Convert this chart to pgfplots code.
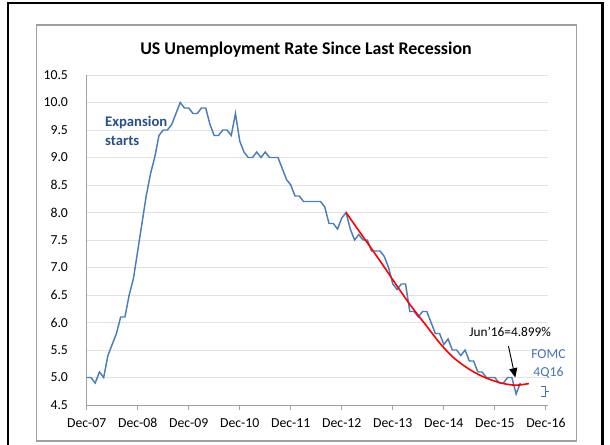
\documentclass[border=0pt]{standalone}
\usepackage{fontspec}
\setmainfont{Carlito}
\usepackage{pgfplots}
\pgfplotsset{compat=1.18}
\usetikzlibrary{arrows.meta}
\definecolor{xlblue}{RGB}{74,126,187}
\definecolor{xldark}{RGB}{38,80,140}
\definecolor{xlfomc}{RGB}{70,115,180}
\definecolor{gridgray}{RGB}{226,226,226}
\definecolor{axisgray}{RGB}{160,160,160}

% months since Dec-07, unemployment rate (%)
\pgfplotstableread{
m r
0 5.0
1 5.0
2 4.9
3 5.1
4 5.0
5 5.4
6 5.6
7 5.8
8 6.1
9 6.1
10 6.5
11 6.8
12 7.3
13 7.8
14 8.3
15 8.7
16 9.0
17 9.4
18 9.5
19 9.5
20 9.6
21 9.8
22 10.0
23 9.9
24 9.9
25 9.8
26 9.8
27 9.9
28 9.9
29 9.6
30 9.4
31 9.4
32 9.5
33 9.5
34 9.4
35 9.8
36 9.3
37 9.1
38 9.0
39 9.0
40 9.1
41 9.0
42 9.1
43 9.0
44 9.0
45 9.0
46 8.8
47 8.6
48 8.5
49 8.3
50 8.3
51 8.2
52 8.2
53 8.2
54 8.2
55 8.2
56 8.1
57 7.8
58 7.8
59 7.7
60 7.9
61 8.0
62 7.7
63 7.5
64 7.6
65 7.5
66 7.5
67 7.3
68 7.3
69 7.3
70 7.2
71 7.0
72 6.7
73 6.6
74 6.7
75 6.7
76 6.2
77 6.2
78 6.1
79 6.2
80 6.2
81 6.0
82 5.8
83 5.8
84 5.6
85 5.7
86 5.5
87 5.5
88 5.4
89 5.5
90 5.3
91 5.3
92 5.1
93 5.1
94 5.0
95 5.0
96 5.0
97 4.9
98 4.9
99 5.0
100 5.0
101 4.7
102 4.9
}\urate

% fitted trend
\pgfplotstableread{
m r
61 8.00
65 7.56
69 7.12
72.5 6.72
76 6.33
80 5.93
83 5.63
86 5.38
89 5.20
92 5.06
95 4.96
98 4.89
101 4.86
104 4.89
}\trend

\begin{document}
\begin{tikzpicture}
\path[use as bounding box] (-65pt,-29.25pt) rectangle (392.5pt,303.75pt);
\draw[line width=2.2pt] (-59pt,-40pt) -- (-59pt,301.5pt) -- (387.2pt,301.5pt) -- (387.2pt,-40pt);
\draw[axisgray, line width=0.8pt] (-37.3pt,-27pt) rectangle (367.5pt,285pt);
\node[font=\fontsize{13.4}{16}\selectfont\bfseries] at (164.5pt,266.25pt) {US Unemployment Rate Since Last Recession};
\begin{axis}[
  at={(0,0)}, anchor=south west,
  scale only axis,
  width=346pt, height=247.5pt,
  xmin=0, xmax=108.5,
  ymin=4.5, ymax=10.5,
  axis x line*=bottom,
  axis y line*=left,
  axis line style={axisgray, line width=0.6pt},
  xtick={0,12,...,108},
  xticklabels={Dec-07,Dec-08,Dec-09,Dec-10,Dec-11,Dec-12,Dec-13,Dec-14,Dec-15,Dec-16},
  ytick={4.5,5,...,10.5},
  tick align=outside,
  major tick length=3.5pt,
  xtick style={axisgray, line width=0.6pt},
  ytick style={draw=none},
  ymajorgrids,
  major grid style={gridgray, line width=0.6pt},
  /pgf/number format/assume math mode=true,
  tick label style={font=\fontsize{10.3}{12}\selectfont},
  yticklabel style={/pgf/number format/fixed, /pgf/number format/fixed zerofill, /pgf/number format/precision=1, xshift=-7pt},
  xticklabel style={yshift=-3pt},
  clip=false,
]
\addplot[xlblue, line width=1.1pt, no markers] table[x=m, y=r] {\urate};
\addplot[red, line width=1.2pt, no markers, smooth] table[x=m, y=r] {\trend};

\node[anchor=west, align=left, text=xldark, font=\fontsize{11}{14.25}\selectfont\bfseries, inner sep=0pt]
  at (axis cs:4.3,9.48) {Expansion\\starts};
\node[font=\fontsize{10}{12}\selectfont, inner sep=0pt] at (axis cs:99.6,5.83) {Jun'16=4.899\%};
\draw[-{Triangle[width=6pt,length=7pt]}, line width=0.7pt] (axis cs:99.2,5.57) -- (axis cs:100.8,5.0);
\node[align=center, text=xlfomc, font=\fontsize{10.3}{13.3}\selectfont, inner sep=0pt]
  at (axis cs:108.6,5.25) {FOMC\\4Q16};
\draw[xlfomc, line width=0.8pt] (axis cs:106.8,4.84) -- (axis cs:108.0,4.84) -- (axis cs:108.0,4.66) -- (axis cs:106.8,4.66)
  (axis cs:108.0,4.75) -- (axis cs:108.8,4.75);
\end{axis}
\end{tikzpicture}
\end{document}
